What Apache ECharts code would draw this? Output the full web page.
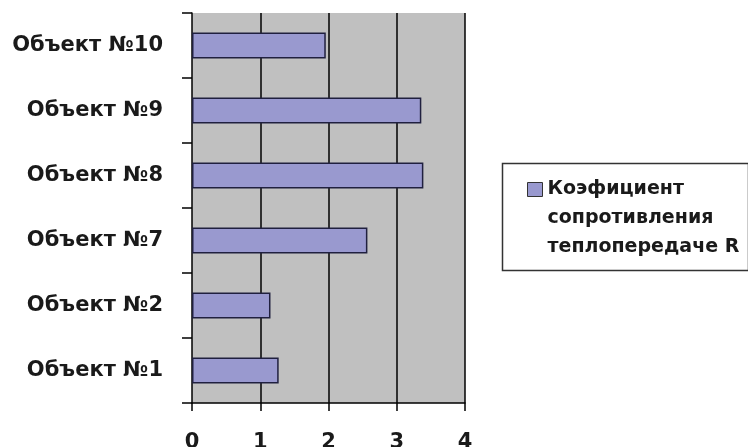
<!DOCTYPE html>
<html>
<head>
<meta charset="utf-8">
<script src="https://cdn.jsdelivr.net/npm/echarts@6/dist/echarts.min.js"></script>
<style>
html,body{margin:0;padding:0;background:#fff;}
#chart{width:748px;height:447px;}
</style>
</head>
<body>
<div id="chart"></div>
<script>
const categories = ['Объект №1', 'Объект №2', 'Объект №7', 'Объект №8', 'Объект №9', 'Объект №10'];
const values = [1.27, 1.15, 2.57, 3.39, 3.36, 1.96];
const seriesName = 'Коэфициент\nсопротивления\nтеплопередаче R';
const xTicks = [0, 1, 2, 3, 4];

const chart = echarts.init(document.getElementById('chart'), null, {renderer: 'canvas'});
chart.setOption({
  backgroundColor: '#ffffff',
  animation: false,
  textStyle: {fontFamily: 'DejaVu Sans'},
  grid: {
    left: 192, right: 283, top: 13, bottom: 44,
    outerBoundsMode: 'none', containLabel: false,
    show: true, backgroundColor: '#C0C0C0', borderWidth: 0
  },
  legend: {
    show: true,
    orient: 'vertical',
    left: 527,
    top: 117,
    padding: 0,
    itemWidth: 15,
    itemHeight: 14,
    icon: 'rect',
    itemStyle: {borderColor: '#333', borderWidth: 1},
    formatter: name => '\n\n' + name,
    textStyle: {
      fontFamily: 'DejaVu Sans', fontWeight: 'bold', fontSize: 19,
      color: '#1a1a1a', lineHeight: 29
    },
    data: [seriesName]
  },
  graphic: [{
    type: 'rect', left: 500, top: 161, silent: true,
    shape: {width: 246, height: 107},
    style: {fill: 'none', stroke: '#333', lineWidth: 1.5}
  }],
  xAxis: {
    type: 'value', min: xTicks[0], max: xTicks[xTicks.length - 1], interval: 1,
    axisLine: {show: true, lineStyle: {color: '#000', width: 1.5}},
    axisTick: {show: true, length: 8, lineStyle: {color: '#000', width: 1.5}},
    axisLabel: {
      margin: 29, color: '#1a1a1a', fontFamily: 'DejaVu Sans', fontWeight: 'bold', fontSize: 21,
      formatter: v => String(v)
    },
    splitLine: {show: true, showMinLine: false, showMaxLine: true,
      lineStyle: {color: ['#000', '#000', '#000', '#000', '#a8a8a8'], width: 1.5}}
  },
  yAxis: {
    type: 'category', data: categories,
    axisLine: {show: true, lineStyle: {color: '#000', width: 1.5}},
    axisTick: {show: true, length: 10, lineStyle: {color: '#000', width: 1.5}},
    axisLabel: {
      margin: 29, color: '#1a1a1a', fontFamily: 'DejaVu Sans', fontWeight: 'bold', fontSize: 21
    }
  },
  series: [{
    name: seriesName,
    type: 'bar',
    data: values,
    barWidth: 26,
    itemStyle: {color: '#9999cf', borderColor: '#20203f', borderWidth: 1.5}
  }]
});
</script>
</body>
</html>
